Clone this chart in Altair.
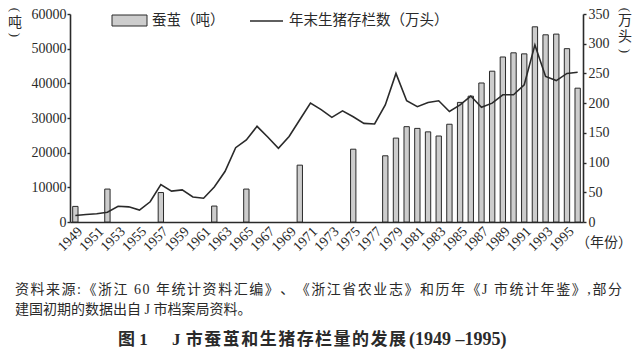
import altair as alt
import pandas as pd

years = list(range(1949, 1997))
pigs = [11, 12.5, 14, 16.5, 26.5, 25.5, 20, 34, 63, 52, 54, 42, 40, 59, 85, 125,
        138, 161, 143, 124, 144, 172, 200, 189, 176, 187, 177, 166, 165, 197, 250,
        204, 194, 201, 204, 186, 197, 212, 193, 200, 214, 214, 231, 298, 245, 238,
        250, 252]
silk_years = [1949, 1952, 1957, 1962, 1965, 1970, 1975] + list(range(1978, 1997))
silk = [4500, 9500, 8500, 4600, 9500, 16400, 21000,
        19100, 24200, 27500, 27000, 26000, 24800, 28200, 34500, 36300, 40100,
        43500, 47600, 48800, 48500, 56300, 54000, 54200, 50000, 38600]
tick_years = list(range(1949, 1996, 2))

source_line1 = "资料来源:《浙江 60 年统计资料汇编》、《浙江省农业志》和历年《J 市统计年鉴》,部分"
source_line2 = "建国初期的数据出自 J 市档案局资料。"
fig_title_a = "图 1"
fig_title_b = "J 市蚕茧和生猪存栏量的发展"
fig_title_c = "(1949 –1995)"

NUM = "Liberation Serif"
CJK = "Liberation Serif, Noto Sans CJK SC"
DARK = "#2a2a2a"

pig_df = pd.DataFrame({"year": years, "pigs": pigs})
silk_df = pd.DataFrame({"year": silk_years, "silk": silk})

xscale = alt.Scale(domain=years, paddingInner=0.5, paddingOuter=0.25)
xaxis = alt.Axis(values=tick_years, labelAngle=-45, labelFont=NUM, labelFontSize=14,
                 labelColor=DARK, ticks=False, domainColor=DARK, domainWidth=1.6,
                 labelPadding=2, title=None, grid=False)

bars = alt.Chart(silk_df).mark_bar(color="#cdcdcd", stroke=DARK, strokeWidth=1).encode(
    x=alt.X("year:O", scale=xscale, axis=xaxis),
    y=alt.Y("silk:Q", scale=alt.Scale(domain=[0, 60000]),
            axis=alt.Axis(values=list(range(0, 60001, 10000)), format="d", title=None,
                          labelFont=NUM, labelFontSize=14, labelColor=DARK,
                          tickSize=3, labelPadding=1, tickColor=DARK, tickWidth=1.4,
                          domainColor=DARK, domainWidth=1.6, grid=False)),
)

line = alt.Chart(pig_df).mark_line(color=DARK, strokeWidth=1.6).encode(
    x=alt.X("year:O", scale=xscale, axis=xaxis, bandPosition=0.5),
    y=alt.Y("pigs:Q", scale=alt.Scale(domain=[0, 350]),
            axis=alt.Axis(orient="right", values=list(range(0, 351, 50)), title=None,
                          labelFont=NUM, labelFontSize=14, labelColor=DARK,
                          tickSize=3, labelPadding=2, tickColor=DARK, tickWidth=1.4,
                          domainColor=DARK, domainWidth=1.6, grid=False)),
)

one = alt.Data(values=[{"k": 1}])


def txt(text, x, y, size=14, align="left", font=CJK, weight="normal", angle=0):
    return alt.Chart(one).mark_text(text=text, align=align, baseline="middle",
                                    font=font, fontSize=size, color=DARK,
                                    fontWeight=weight, angle=angle).encode(
        x=alt.value(x), y=alt.value(y))


def char_w(c, size):
    if c.isdigit() or c == "–":
        return 0.5 * size
    if c == " ":
        return 0.25 * size
    if c in ":,":
        return 0.27 * size
    if c in "()":
        return 0.33 * size
    if c == "J":
        return 0.39 * size
    return 1.0 * size


def justified(text, x0, x1, y, size, weight="normal"):
    widths = [char_w(c, size) for c in text]
    gap = (x1 - x0 - sum(widths)) / (len(text) - 1)
    rows, pos = [], x0
    for c, w in zip(text, widths):
        if c != " ":
            rows.append({"ch": c, "px": pos})
        pos += w + gap
    df = pd.DataFrame(rows)
    return alt.Chart(df).mark_text(align="left", baseline="middle", font=CJK,
                                   fontSize=size, color=DARK, fontWeight=weight).encode(
        x=alt.X("px:Q", scale=None), y=alt.value(y), text="ch:N")


legend_rect = alt.Chart(one).mark_rect(fill="#cdcdcd", stroke=DARK, strokeWidth=1).encode(
    x=alt.value(42), x2=alt.value(77), y=alt.value(1), y2=alt.value(12))
legend_line = alt.Chart(one).mark_rule(color=DARK, strokeWidth=1.6).encode(
    x=alt.value(180), x2=alt.value(213), y=alt.value(7))

texts = [
    txt("蚕茧（吨）", 82, 7, size=14.5),
    txt("年末生猪存栏数（万头）", 219, 7, size=14.5),
    txt("(", -55, -4, size=13, align="center", font=NUM, angle=90),
    txt("吨", -55, 9, size=14, align="center"),
    txt(")", -55, 21, size=13, align="center", font=NUM, angle=90),
    txt("(", 555, -4, size=13, align="center", font=NUM, angle=90),
    txt("万", 555, 7, size=14, align="center"),
    txt("头", 555, 23, size=14, align="center"),
    txt(")", 555, 37, size=13, align="center", font=NUM, angle=90),
    txt("（年份）", 506, 229, size=14),
    justified(source_line1, -55, 552, 276, 14),
    txt(source_line2, -55, 296, size=14),
    txt(fig_title_a, 48, 326, size=17, weight="bold"),
    justified(fig_title_b, 102, 336, 326, 17, weight="bold"),
    txt(fig_title_c, 339, 326, size=18, weight="bold", font=NUM),
]

chart = alt.layer(bars, line, legend_rect, legend_line, *texts).resolve_scale(
    y="independent").properties(
    width=513, height=208,
    padding={"left": 62, "top": 6, "right": 49, "bottom": 128},
    autosize=alt.AutoSizeParams(type="none"),
).configure_view(stroke=None)

chart.save("out.html", embed_options={"renderer": "svg", "actions": False})
